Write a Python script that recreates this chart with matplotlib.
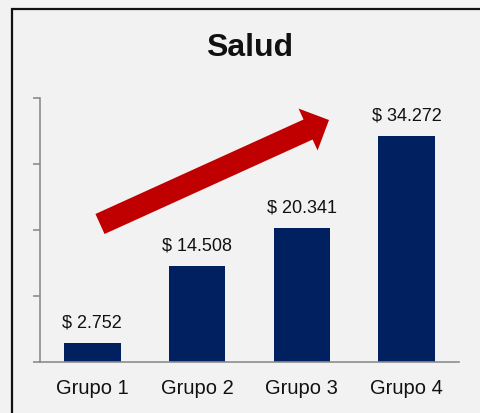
## Salud: bar chart by group with a trend arrow ##

import matplotlib
matplotlib.use('Agg')
import matplotlib.pyplot as plt
from matplotlib.patches import FancyArrow, Rectangle

plt.rcParams['font.family'] = ['Liberation Sans', 'DejaVu Sans']

groups = ['Grupo 1', 'Grupo 2', 'Grupo 3', 'Grupo 4']
values = [2752, 14508, 20341, 34272]
labels = ['$ 2.752', '$ 14.508', '$ 20.341', '$ 34.272']
yticks = [0, 10000, 20000, 30000, 40000]

BG = '#f2f2f2'
NAVY = '#002060'
GRAY = '#8c8c8c'
W, H = 481, 414

fig = plt.figure(figsize=(W / 100, H / 100), dpi=100, facecolor=BG)
ax = fig.add_axes([40 / W, (H - 362.5) / H, 419 / W, 263.5 / H], facecolor=BG)

x = range(len(groups))
bars = ax.bar(x, values, width=0.54, color=NAVY, zorder=2)
for xi, v, lab in zip(x, values, labels):
    ax.annotate(lab, (xi, v), xytext=(0, 9), textcoords='offset points',
                ha='center', va='bottom', fontsize=13, color='#111111')

ax.set_xlim(-0.5, 3.5)
ax.set_ylim(0, 40000)
ax.set_yticks(yticks)
ax.set_yticklabels([])
ax.set_xticks(list(x))
ax.set_xticklabels(groups, fontsize=14.5, color='#111111')
ax.tick_params(axis='x', length=0, pad=12)
ax.tick_params(axis='y', length=5, width=1.2, color=GRAY, direction='out')
for s in ['top', 'right']:
    ax.spines[s].set_visible(False)
for s in ['left', 'bottom']:
    ax.spines[s].set_color(GRAY)
    ax.spines[s].set_linewidth(1.2)

fig.text(250 / W, (H - 48) / H, 'Salud', ha='center', va='center',
         fontsize=23, fontweight='bold', color='#111111')

# red trend arrow, drawn in inches on the figure (pixel / 100)
tail = (100, 225)
tip = (329, 121)
arrow = FancyArrow(tail[0] / 100, (H - tail[1]) / 100,
                   (tip[0] - tail[0]) / 100, (tail[1] - tip[1]) / 100,
                   width=0.22, head_width=0.46, head_length=0.23,
                   length_includes_head=True, color='#c00000', lw=0,
                   transform=fig.dpi_scale_trans, zorder=5)
fig.add_artist(arrow)

# outer frame, cut off at right and bottom
frame = Rectangle((11.5 / 100, -0.2), 5.0, (H - 9.5) / 100 + 0.2,
                  fill=False, edgecolor='#111111', lw=1.6,
                  transform=fig.dpi_scale_trans)
fig.add_artist(frame)

fig.savefig('out.png', dpi=100, facecolor=BG)
